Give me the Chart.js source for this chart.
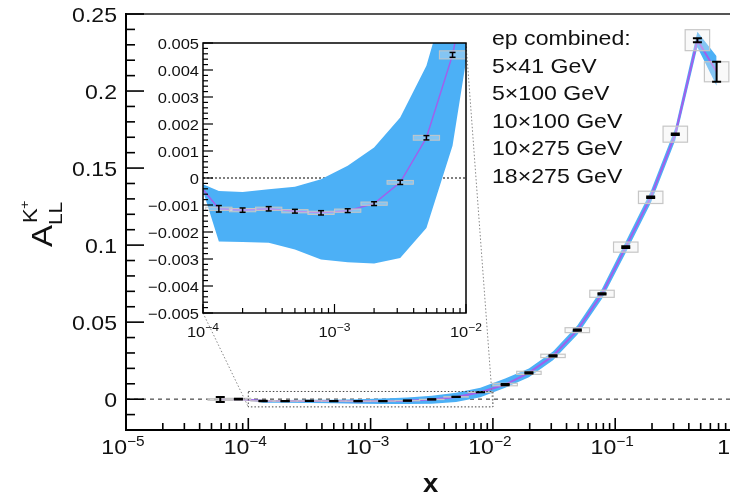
<!DOCTYPE html>
<html>
<head>
<meta charset="utf-8">
<script src="https://cdn.jsdelivr.net/npm/chart.js@4.4.1/dist/chart.umd.min.js"></script>
<style>
html, body { margin: 0; padding: 0; background: #fff; overflow: hidden; }
#wrap { position: relative; width: 730px; height: 496px; overflow: hidden; background: #fff; }
#main { position: absolute; left: 0; top: 0; }
#inset { position: absolute; left: 140px; top: 35px; }
</style>
</head>
<body>
<div id="wrap">
  <canvas id="main" width="760" height="496"></canvas>
  <canvas id="inset" width="350" height="305"></canvas>
</div>
<script>
// pseudo-data: bin centres in x, projected A_LL(K+), stat and syst errors
var binX    = [5.9e-5, 8.3e-5, 1.32e-4, 2.0e-4, 3.16e-4, 5.0e-4, 7.9e-4, 1.26e-3, 2.0e-3, 3.16e-3, 5.0e-3, 7.9e-3,
               1.26e-2, 1.97e-2, 3.1e-2, 4.9e-2, 7.8e-2, 0.122, 0.195, 0.31, 0.47, 0.675];
var asym    = [-0.0002, 0.00005, -0.00114, -0.00119, -0.00114, -0.00123, -0.00129, -0.00121, -0.00095, -0.00016, 0.00149, 0.00456,
               0.0095, 0.0171, 0.0281, 0.0448, 0.0684, 0.0987, 0.131, 0.172, 0.233, 0.2125];
var statErr = [0.0016, 0.0003, 0.00012, 0.00008, 0.00008, 0.00007, 0.00008, 0.00007, 0.00007, 0.00008, 0.00008, 0.00009,
               0.0004, 0.0004, 0.0004, 0.0004, 0.0004, 0.0005, 0.0005, 0.0005, 0.0013, 0.0065];
var systErr = [0.0005, 0.0005, 0.00006, 0.00006, 0.00006, 0.00006, 0.00006, 0.00006, 0.00006, 0.00007, 0.00009, 0.00015,
               0.0008, 0.001, 0.0011, 0.0016, 0.0023, 0.0033, 0.004, 0.0052, 0.0068, 0.0065];

// theory uncertainty band
var bandX  = [1.0e-4, 1.32e-4, 2.0e-4, 3.16e-4, 5.0e-4, 7.9e-4, 1.26e-3, 2.0e-3, 3.16e-3, 5.0e-3, 7.9e-3,
              1.26e-2, 1.97e-2, 3.1e-2, 4.9e-2, 7.8e-2, 0.122, 0.195, 0.31, 0.47, 0.675];
var bandHi = [-0.00023, -0.00048, -0.00052, -0.00042, -0.00032, -0.00005, 0.00045, 0.00113, 0.00224, 0.00416, 0.0075,
              0.0135, 0.0199, 0.0309, 0.0478, 0.0716, 0.1023, 0.1348, 0.1760, 0.2385, 0.2225];
var bandLo = [-0.00048, -0.00235, -0.00237, -0.0024, -0.00265, -0.00302, -0.00312, -0.00317, -0.00296, -0.00185, 0.00119,
              0.0074, 0.0143, 0.0253, 0.0418, 0.0652, 0.0951, 0.1272, 0.1680, 0.2285, 0.2035];

// axis ticks and labels
var mainYTicks  = [0, 0.05, 0.1, 0.15, 0.2, 0.25];
var mainYLabels = ['0', '0.05', '0.1', '0.15', '0.2', '0.25'];
var mainXTicks  = [1e-5, 1e-4, 1e-3, 1e-2, 1e-1, 1];
var mainXExps   = ['\u22125', '\u22124', '\u22123', '\u22122', '\u22121', '0'];
var insetYTicks  = [-0.005, -0.004, -0.003, -0.002, -0.001, 0, 0.001, 0.002, 0.003, 0.004, 0.005];
var insetYLabels = ['\u22120.005', '\u22120.004', '\u22120.003', '\u22120.002', '\u22120.001', '0',
                    '0.001', '0.002', '0.003', '0.004', '0.005'];
var insetXTicks = [1e-4, 1e-3, 1e-2];
var insetXExps  = ['\u22124', '\u22123', '\u22122'];

var legendLines = ['ep combined:', '5\u00d741 GeV', '5\u00d7100 GeV', '10\u00d7100 GeV', '10\u00d7275 GeV', '18\u00d7275 GeV'];

var BAND_COLOR = 'rgb(76,176,246)';
var CURVE_COLOR = 'rgb(160,96,236)';
var BOX_HALF_DEC = 0.1;   // syst box half width, in decades
var FONT = '"Liberation Sans", Arial, Helvetica, sans-serif';
var SX = 1.1;             // slight horizontal stretch of the text

function txt(ctx, s, x, y, px, align, bold) {
  ctx.save();
  ctx.font = (bold ? 'bold ' : '') + px + 'px ' + FONT;
  ctx.textBaseline = 'alphabetic';
  ctx.textAlign = 'left';
  var w = ctx.measureText(s).width * SX;
  var x0 = align === 'right' ? x - w : (align === 'center' ? x - w / 2 : x);
  ctx.translate(x0, y);
  ctx.scale(SX, 1);
  ctx.fillStyle = '#111';
  ctx.fillText(s, 0, 0);
  ctx.restore();
  return w;
}

function textWidth(ctx, s, px) {
  ctx.save();
  ctx.font = px + 'px ' + FONT;
  var w = ctx.measureText(s).width * SX;
  ctx.restore();
  return w;
}

// "10^n" centred on cx
function powLabel(ctx, exp, cx, baseY, px, supPx, raise) {
  var w1 = textWidth(ctx, '10', px), w2 = textWidth(ctx, exp, supPx);
  var x0 = cx - (w1 + w2) / 2;
  txt(ctx, '10', x0, baseY, px, 'left');
  txt(ctx, exp, x0 + w1, baseY - raise, supPx, 'left');
}

function seg(ctx, x1, y1, x2, y2) {
  ctx.beginPath(); ctx.moveTo(x1, y1); ctx.lineTo(x2, y2); ctx.stroke();
}

function drawPoints(chart, capHalf, barWidth, boxLine) {
  var ctx = chart.ctx, xs = chart.scales.x, ys = chart.scales.y, a = chart.chartArea;
  var f = Math.pow(10, BOX_HALF_DEC);
  ctx.save();
  ctx.beginPath(); ctx.rect(a.left, a.top, a.right - a.left, a.bottom - a.top); ctx.clip();
  for (var i = 0; i < binX.length; i++) {
    if (binX[i] < xs.min || binX[i] > xs.max) continue;
    var l = xs.getPixelForValue(binX[i] / f), r = xs.getPixelForValue(binX[i] * f);
    var t = ys.getPixelForValue(asym[i] + systErr[i]), b = ys.getPixelForValue(asym[i] - systErr[i]);
    ctx.fillStyle = 'rgba(238,238,238,0.35)';
    ctx.fillRect(l, t, r - l, b - t);
    ctx.strokeStyle = '#c6c6c6';
    ctx.lineWidth = boxLine;
    ctx.strokeRect(l, t, r - l, b - t);
  }
  ctx.strokeStyle = '#000';
  ctx.lineWidth = barWidth;
  for (var j = 0; j < binX.length; j++) {
    if (binX[j] < xs.min || binX[j] > xs.max) continue;
    var px = xs.getPixelForValue(binX[j]);
    var y1 = ys.getPixelForValue(asym[j] + statErr[j]), y2 = ys.getPixelForValue(asym[j] - statErr[j]);
    seg(ctx, px, y1, px, y2);
    seg(ctx, px - capHalf, y1, px + capHalf, y1);
    seg(ctx, px - capHalf, y2, px + capHalf, y2);
  }
  ctx.restore();
}

// curve first so it is painted last, on top of the band
function buildDatasets(curveWidth) {
  return [
    { data: binX.map(function (x, i) { return { x: x, y: asym[i] }; }),
      borderColor: CURVE_COLOR, borderWidth: curveWidth, pointRadius: 0, fill: false, clip: 0 },
    { data: bandX.map(function (x, i) { return { x: x, y: bandHi[i] }; }),
      borderColor: 'rgba(0,0,0,0)', borderWidth: 0, pointRadius: 0, fill: false, clip: 0 },
    { data: bandX.map(function (x, i) { return { x: x, y: bandLo[i] }; }),
      borderColor: 'rgba(0,0,0,0)', borderWidth: 0, pointRadius: 0, fill: '-1',
      backgroundColor: BAND_COLOR, clip: 0 }
  ];
}

// ---------- inset: zoom on 1e-4 < x < 1e-2 ----------
var insetPlugin = {
  id: 'insetFrame',
  beforeDraw: function (chart) {
    var ctx = chart.ctx, a = chart.chartArea;
    ctx.save(); ctx.fillStyle = '#fff';
    ctx.fillRect(a.left, a.top, a.right - a.left, a.bottom - a.top);
    ctx.restore();
  },
  beforeDatasetsDraw: function (chart) {
    var ctx = chart.ctx, a = chart.chartArea, y0 = chart.scales.y.getPixelForValue(0);
    ctx.save(); ctx.strokeStyle = '#000'; ctx.lineWidth = 1; ctx.setLineDash([2, 2]);
    seg(ctx, a.left, y0, a.right, y0);
    ctx.restore();
  },
  afterDatasetsDraw: function (chart) {
    var ctx = chart.ctx, a = chart.chartArea, xs = chart.scales.x, ys = chart.scales.y;
    drawPoints(chart, 3, 1.5, 1);
    ctx.save();
    ctx.strokeStyle = '#000';
    ctx.lineWidth = 1.5;
    ctx.strokeRect(a.left, a.top, a.right - a.left, a.bottom - a.top);
    ctx.lineWidth = 1.2;
    for (var k = -25; k <= 25; k++) {
      var yy = ys.getPixelForValue(k * 0.0002);
      seg(ctx, a.left, yy, a.left + (k % 5 === 0 ? 10 : 5), yy);
    }
    for (var d = -4; d <= -2; d++) {
      for (var m = 1; m <= 9; m++) {
        var v = m * Math.pow(10, d);
        if (v > xs.max * 1.0001) break;
        var xx = xs.getPixelForValue(v);
        seg(ctx, xx, a.bottom, xx, a.bottom - (m === 1 ? 9 : 5));
      }
    }
    ctx.restore();
    for (var i = 0; i < insetYTicks.length; i++) {
      txt(ctx, insetYLabels[i], a.left - 4, ys.getPixelForValue(insetYTicks[i]) + 5.5, 15, 'right');
    }
    for (var j = 0; j < insetXTicks.length; j++) {
      powLabel(ctx, insetXExps[j], xs.getPixelForValue(insetXTicks[j]), a.bottom + 24, 15, 11, 6);
    }
  }
};

var insetChart = new Chart(document.getElementById('inset'), {
  type: 'line',
  data: { datasets: buildDatasets(1.5) },
  options: {
    responsive: false,
    animation: false,
    events: [],
    layout: { padding: { top: 8, right: 24, left: 0, bottom: 0 } },
    plugins: { legend: { display: false }, tooltip: { enabled: false } },
    scales: {
      x: { type: 'logarithmic', min: 1e-4, max: 1e-2, bounds: 'data',
           grid: { display: false }, border: { display: false }, ticks: { display: false },
           afterFit: function (s) { s.height = 27; } },
      y: { type: 'linear', min: -0.005, max: 0.005, bounds: 'data',
           grid: { display: false }, border: { display: false }, ticks: { display: false },
           afterFit: function (s) { s.width = 63; } }
    }
  },
  plugins: [insetPlugin]
});

// position of the inset canvas on the page
var INSET_LEFT = 140, INSET_TOP = 35;

// ---------- main plot ----------
var mainPlugin = {
  id: 'mainFrame',
  beforeDatasetsDraw: function (chart) {
    var ctx = chart.ctx, a = chart.chartArea, y0 = chart.scales.y.getPixelForValue(0);
    ctx.save(); ctx.strokeStyle = '#6a6a6a'; ctx.lineWidth = 1.5; ctx.setLineDash([4, 4]);
    seg(ctx, a.left, y0, a.right, y0);
    ctx.restore();
  },
  afterDatasetsDraw: function (chart) {
    var ctx = chart.ctx, a = chart.chartArea, xs = chart.scales.x, ys = chart.scales.y;
    drawPoints(chart, 4.5, 2, 1.2);

    // zoom window and the guide lines to the inset
    var ia = insetChart.chartArea;
    var zl = xs.getPixelForValue(insetChart.scales.x.min), zr = xs.getPixelForValue(insetChart.scales.x.max);
    var zt = ys.getPixelForValue(insetChart.scales.y.max), zb = ys.getPixelForValue(insetChart.scales.y.min);
    ctx.save();
    ctx.strokeStyle = '#444'; ctx.lineWidth = 1; ctx.setLineDash([1.5, 2]);
    ctx.strokeRect(zl, zt, zr - zl, zb - zt);
    ctx.strokeStyle = '#888';
    seg(ctx, INSET_LEFT + ia.left, INSET_TOP + ia.bottom, zl, zb);
    seg(ctx, INSET_LEFT + ia.right, INSET_TOP + ia.top, zr, zb);
    ctx.restore();

    // frame and inward ticks
    ctx.save();
    ctx.strokeStyle = '#555'; ctx.lineWidth = 2;
    seg(ctx, a.left, a.top, a.right, a.top);
    ctx.strokeStyle = '#000';
    seg(ctx, a.left, a.top - 1, a.left, a.bottom + 1);
    seg(ctx, a.left, a.bottom, a.right, a.bottom);
    ctx.lineWidth = 1.6;
    for (var k = -2; k <= 25; k++) {
      var yy = ys.getPixelForValue(k / 100);
      seg(ctx, a.left, yy, a.left + (k % 5 === 0 ? 18 : 9), yy);
    }
    for (var d = -5; d <= 0; d++) {
      for (var m = 1; m <= 9; m++) {
        var v = m * Math.pow(10, d);
        if (v > xs.max * 1.0001) break;
        var xx = xs.getPixelForValue(v);
        seg(ctx, xx, a.bottom, xx, a.bottom - (m === 1 ? 12 : 7));
      }
    }
    ctx.restore();

    for (var i = 0; i < mainYTicks.length; i++) {
      txt(ctx, mainYLabels[i], a.left - 9, ys.getPixelForValue(mainYTicks[i]) + 7.5, 21, 'right');
    }
    for (var j = 0; j < mainXTicks.length; j++) {
      powLabel(ctx, mainXExps[j], xs.getPixelForValue(mainXTicks[j]) - 3, a.bottom + 24, 21, 14, 8);
    }

    // axis titles
    txt(ctx, 'x', (a.left + a.right) / 2 - 1, a.bottom + 62, 25, 'center', true);
    ctx.save();
    ctx.translate(a.left - 74, 247);
    ctx.rotate(-Math.PI / 2);
    txt(ctx, 'A', 0, 0, 30, 'left');
    txt(ctx, 'LL', 22, 10, 19, 'left');
    txt(ctx, 'K', 24, -15, 20, 'left');
    txt(ctx, '+', 38, -23, 13, 'left');
    ctx.restore();

    // beam energy list
    for (var n = 0; n < legendLines.length; n++) {
      txt(ctx, legendLines[n], 492, 45 + n * 27.5, 21, 'left');
    }
  }
};

var mainChart = new Chart(document.getElementById('main'), {
  type: 'line',
  data: { datasets: buildDatasets(2) },
  options: {
    responsive: false,
    animation: false,
    events: [],
    layout: { padding: { top: 14, right: 22.5, left: 0, bottom: 0 } },
    plugins: { legend: { display: false }, tooltip: { enabled: false } },
    scales: {
      x: { type: 'logarithmic', min: 1e-5, max: 1, bounds: 'data',
           grid: { display: false }, border: { display: false }, ticks: { display: false },
           afterFit: function (s) { s.height = 66; } },
      y: { type: 'linear', min: -0.02, max: 0.25, bounds: 'data',
           grid: { display: false }, border: { display: false }, ticks: { display: false },
           afterFit: function (s) { s.width = 126; } }
    }
  },
  plugins: [mainPlugin]
});
</script>
</body>
</html>
